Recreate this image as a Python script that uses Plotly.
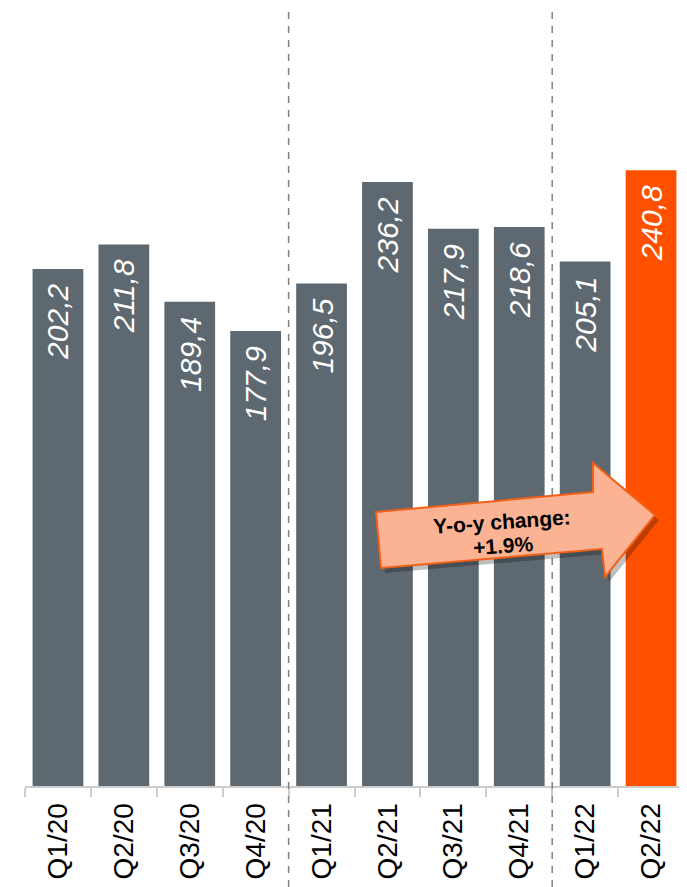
import plotly.graph_objects as go

categories = ["Q1/20", "Q2/20", "Q3/20", "Q4/20", "Q1/21", "Q2/21", "Q3/21", "Q4/21", "Q1/22", "Q2/22"]
values = [202.2, 211.8, 189.4, 177.9, 196.5, 236.2, 217.9, 218.6, 205.1, 240.8]
value_labels = ["202,2", "211,8", "189,4", "177,9", "196,5", "236,2", "217,9", "218,6", "205,1", "240,8"]
highlight = "Q2/22"
divider_after = ["Q4/20", "Q4/21"]
yoy_lines = ["Y-o-y change:", "+1.9%"]

GRAY = "#5d6870"
ORANGE = "#ff5000"
FONT = "Liberation Sans, Arial, sans-serif"

OFF = 8  # page body margin
W, H = 687 - OFF, 887 - OFF
L, R, T, B = 25 - OFF, 3, 0, 101
PW, PH = W - L - R, H - T - B

def px(x):
    return (x - OFF - L) / PW

def py(y):
    return (H - B - (y - OFF)) / PH

colors = [ORANGE if c == highlight else GRAY for c in categories]

fig = go.Figure()
fig.add_trace(go.Bar(
    x=categories, y=values, marker=dict(color=colors, line=dict(width=0)),
    hoverinfo="skip", showlegend=False,
))

annotations = []
for c, v, t in zip(categories, values, value_labels):
    annotations.append(dict(
        x=c, y=v, xref="x", yref="y", text="<i>" + t + "</i>", showarrow=False,
        textangle=-90, yanchor="top", xanchor="center", yshift=-13,
        font=dict(family=FONT, size=30, color="white"),
    ))

shapes = []
for c in divider_after:
    i = categories.index(c)
    shapes.append(dict(
        type="line", xref="x", yref="paper", x0=i + 0.5, x1=i + 0.5,
        y0=-B / PH, y1=1, line=dict(color="#808080", width=1.5, dash="7px,7px"),
    ))

arrow_pts = [(376, 512), (593, 492), (593, 463), (655, 515), (605, 577), (602, 549), (381, 568)]

def path(pts, dx=0, dy=0):
    return "M " + " L ".join(f"{px(x + dx):.5f},{py(y + dy):.5f}" for x, y in pts) + " Z"

shapes.append(dict(type="path", xref="paper", yref="paper", path=path(arrow_pts, 4, 5),
                   fillcolor="rgba(0,0,0,0.25)", line=dict(width=0)))
shapes.append(dict(type="path", xref="paper", yref="paper", path=path(arrow_pts),
                   fillcolor="#fcb393", line=dict(color="#f06018", width=2)))

for (cx, cy), line in zip([(502, 521), (503, 545)], yoy_lines):
    annotations.append(dict(
        x=px(cx), y=py(cy), xref="paper", yref="paper", text="<b>" + line + "</b>",
        showarrow=False, textangle=-4, font=dict(family=FONT, size=21, color="black"),
        xanchor="center", yanchor="middle",
    ))

fig.update_layout(
    width=W, height=H, margin=dict(l=L, r=R, t=T, b=B, autoexpand=False),
    paper_bgcolor="white", plot_bgcolor="white",
    bargap=0.23, shapes=shapes, annotations=annotations,
    xaxis=dict(
        type="category", showline=True, linecolor="#cccccc", linewidth=2,
        ticks="outside", tickson="boundaries", ticklen=9, tickcolor="#cccccc", tickwidth=2,
        tickangle=-90, tickfont=dict(family=FONT, size=28, color="black"),
        ticklabelstandoff=4,
        showgrid=False, automargin=False, range=[-0.5, 9.5],
    ),
    yaxis=dict(range=[0, (786 - OFF) / 2.557], visible=False, showgrid=False, automargin=False),
)

fig.write_html("out.html")
